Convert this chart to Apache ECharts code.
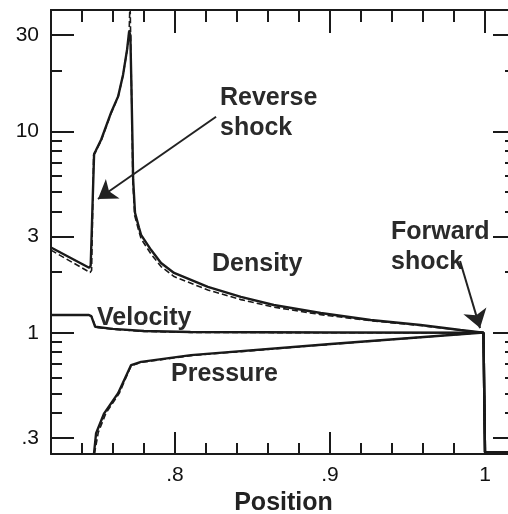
<!DOCTYPE html>
<html>
<head>
<meta charset="utf-8">
<script src="https://cdn.jsdelivr.net/npm/echarts@6/dist/echarts.min.js"></script>
<style>
  html, body { margin: 0; padding: 0; background: #fff; }
  #chart { width: 508px; height: 514px; }
</style>
</head>
<body>
<div id="chart"></div>
<script>
// x = position, y = value (log scale); solid = numerical, dashed = analytic
var densitySolid = [[0.72, 2.65], [0.7446, 2.10], [0.7456, 2.15], [0.7478, 7.7], [0.7487, 7.95], [0.7524, 9.1],
    [0.7588, 12.4], [0.7633, 14.9], [0.7665, 19.1], [0.7691, 25.5], [0.7704, 31.3], [0.7712, 30], [0.7718, 18],
    [0.7725, 9.5], [0.773, 5.75], [0.7742, 3.94], [0.7768, 3.32], [0.7781, 3.06], [0.7845, 2.58], [0.791, 2.22],
    [0.7994, 1.98], [0.8212, 1.69], [0.8425, 1.505], [0.8637, 1.373], [0.894, 1.253], [0.9262, 1.157],
    [0.9584, 1.092], [0.9842, 1.031], [0.999, 1.0], [1.0, 0.255], [1.02, 0.255]];
var densityDashed = [[0.72, 2.57], [0.7452, 1.99], [0.7462, 2.04], [0.7475, 7.6], [0.7487, 7.9], [0.7524, 9.0],
    [0.7588, 12.3], [0.7633, 14.8], [0.7665, 19.0], [0.7691, 25.3], [0.7704, 31], [0.771, 45], [0.7716, 45],
    [0.7722, 12], [0.7728, 5.6], [0.774, 3.82], [0.7768, 3.17], [0.7781, 2.93], [0.7845, 2.46], [0.791, 2.13],
    [0.7994, 1.9], [0.8212, 1.63], [0.8425, 1.46], [0.8637, 1.34], [0.894, 1.23], [0.9262, 1.147],
    [0.9584, 1.086], [0.9842, 1.029], [0.999, 1.0], [1.0, 0.255], [1.02, 0.255]];
var velocitySolid = [[0.72, 1.225], [0.7445, 1.225], [0.746, 1.21], [0.7485, 1.07], [0.76, 1.045], [0.78, 1.02],
    [0.81, 1.008], [0.9, 1.003], [0.999, 1.0], [1.0, 0.255]];
var velocityDashed = [[0.72, 1.22], [0.7448, 1.22], [0.7463, 1.2], [0.7488, 1.065], [0.76, 1.04], [0.78, 1.015],
    [0.81, 1.004], [0.9, 1.0], [0.999, 1.0], [1.0, 0.255]];
var pressureSolid = [[0.7477, 0.25], [0.7491, 0.317], [0.7543, 0.398], [0.7633, 0.501], [0.7717, 0.691],
    [0.7781, 0.717], [0.8103, 0.774], [0.9005, 0.879], [0.997, 1.0], [0.999, 1.0], [1.0, 0.255]];
var pressureDashed = [[0.748, 0.25], [0.7505, 0.32], [0.7555, 0.40], [0.764, 0.50], [0.7717, 0.685],
    [0.7781, 0.712], [0.8103, 0.77], [0.9005, 0.876], [0.997, 1.0], [0.999, 1.0], [1.0, 0.255]];

var xMajor = [0.8, 0.9, 1.0];
var xMinor = [0.74, 0.76, 0.78, 0.82, 0.84, 0.86, 0.88, 0.92, 0.94, 0.96, 0.98, 1.02];
var yMajor = [0.3, 1, 3, 10, 30];
var yMinor = [0.4, 0.5, 0.6, 0.7, 0.8, 0.9, 2, 4, 5, 6, 7, 8, 9, 20];

// arrows: [from, to]
var reverseArrow = [[0.8265, 11.8], [0.7503, 4.61]];
var forwardArrow = [[0.9839, 2.27], [0.9968, 1.054]];

var ink = '#1a1a1a';
var fmt = function (v) { return v < 1 ? String(+v.toFixed(2)).replace(/^0/, '') : String(+v.toFixed(2)); };

function xAxisDef(pos, ticks, len, labels) {
    return {
        type: 'value', position: pos, min: 0.72, max: 1.02, offset: 0,
        splitLine: { show: false },
        axisLine: { show: !!labels || pos === 'top', onZero: false, lineStyle: { color: ink, width: 2 } },
        axisTick: { show: true, inside: true, length: len, customValues: ticks, lineStyle: { color: ink, width: 2 } },
        axisLabel: labels ? {
            show: true, customValues: labels, formatter: fmt, margin: 11,
            fontFamily: 'Liberation Sans', fontSize: 21, color: '#111'
        } : { show: false },
        name: labels ? 'Position' : '',
        nameLocation: 'middle', nameGap: 30,
        nameTextStyle: { fontFamily: 'Liberation Sans', fontWeight: 'bold', fontSize: 25, color: '#222' }
    };
}
function yAxisDef(pos, ticks, len, labels) {
    return {
        type: 'log', position: pos, min: 0.25, max: 40, offset: 0, logBase: 10,
        splitLine: { show: false },
        axisLine: { show: !!labels || pos === 'right', onZero: false, lineStyle: { color: ink, width: 2 } },
        axisTick: { show: true, inside: true, length: len, customValues: ticks, lineStyle: { color: ink, width: 2 } },
        axisLabel: labels ? {
            show: true, customValues: labels, formatter: fmt, margin: 12,
            fontFamily: 'Liberation Sans', fontSize: 21, color: '#111'
        } : { show: false }
    };
}

function lineSeries(data, dashed) {
    return {
        type: 'line', data: data, showSymbol: false, clip: true, z: dashed ? 3 : 2,
        lineStyle: { color: ink, width: dashed ? 1.6 : 2.4, type: dashed ? [6, 3] : 'solid' }
    };
}

var arrowSeries = lineSeries([], false);
arrowSeries.markLine = {
    silent: true, symbol: ['none', 'arrow'], symbolSize: 18, animation: false,
    label: { show: false },
    lineStyle: { color: '#222', width: 2, type: 'solid' },
    itemStyle: { color: '#222' },
    data: [
        [{ coord: reverseArrow[0] }, { coord: reverseArrow[1] }],
        [{ coord: forwardArrow[0] }, { coord: forwardArrow[1] }]
    ]
};

var textFont = 'bold 25px "Liberation Sans"';
function note(txt, x, y) {
    return { type: 'text', x: x, y: y, style: { text: txt, font: textFont, fill: '#2a2a2a', textVerticalAlign: 'middle' } };
}

var chart = echarts.init(document.getElementById('chart'));
chart.setOption({
    animation: false,
    backgroundColor: '#fff',
    grid: { left: 51, top: 10, right: -8, bottom: 60, containLabel: false, outerBoundsMode: 'none' },
    xAxis: [
        xAxisDef('bottom', xMajor, 22, xMajor),
        xAxisDef('bottom', xMinor, 11, null),
        xAxisDef('top', xMajor, 23, null),
        xAxisDef('top', xMinor, 12, null)
    ],
    yAxis: [
        yAxisDef('left', yMajor, 23, yMajor),
        yAxisDef('left', yMinor, 11, null),
        yAxisDef('right', yMajor, 23, null),
        yAxisDef('right', yMinor, 11, null)
    ],
    series: [
        lineSeries(densitySolid, false), lineSeries(densityDashed, true),
        lineSeries(velocitySolid, false), lineSeries(velocityDashed, true),
        lineSeries(pressureSolid, false), lineSeries(pressureDashed, true),
        arrowSeries
    ],
    graphic: [
        note('Reverse', 220, 98),
        note('shock', 220, 128),
        note('Density', 212, 264),
        note('Velocity', 97, 318),
        note('Pressure', 171, 374),
        note('Forward', 391, 232),
        note('shock', 391, 262)
    ]
});
</script>
</body>
</html>
